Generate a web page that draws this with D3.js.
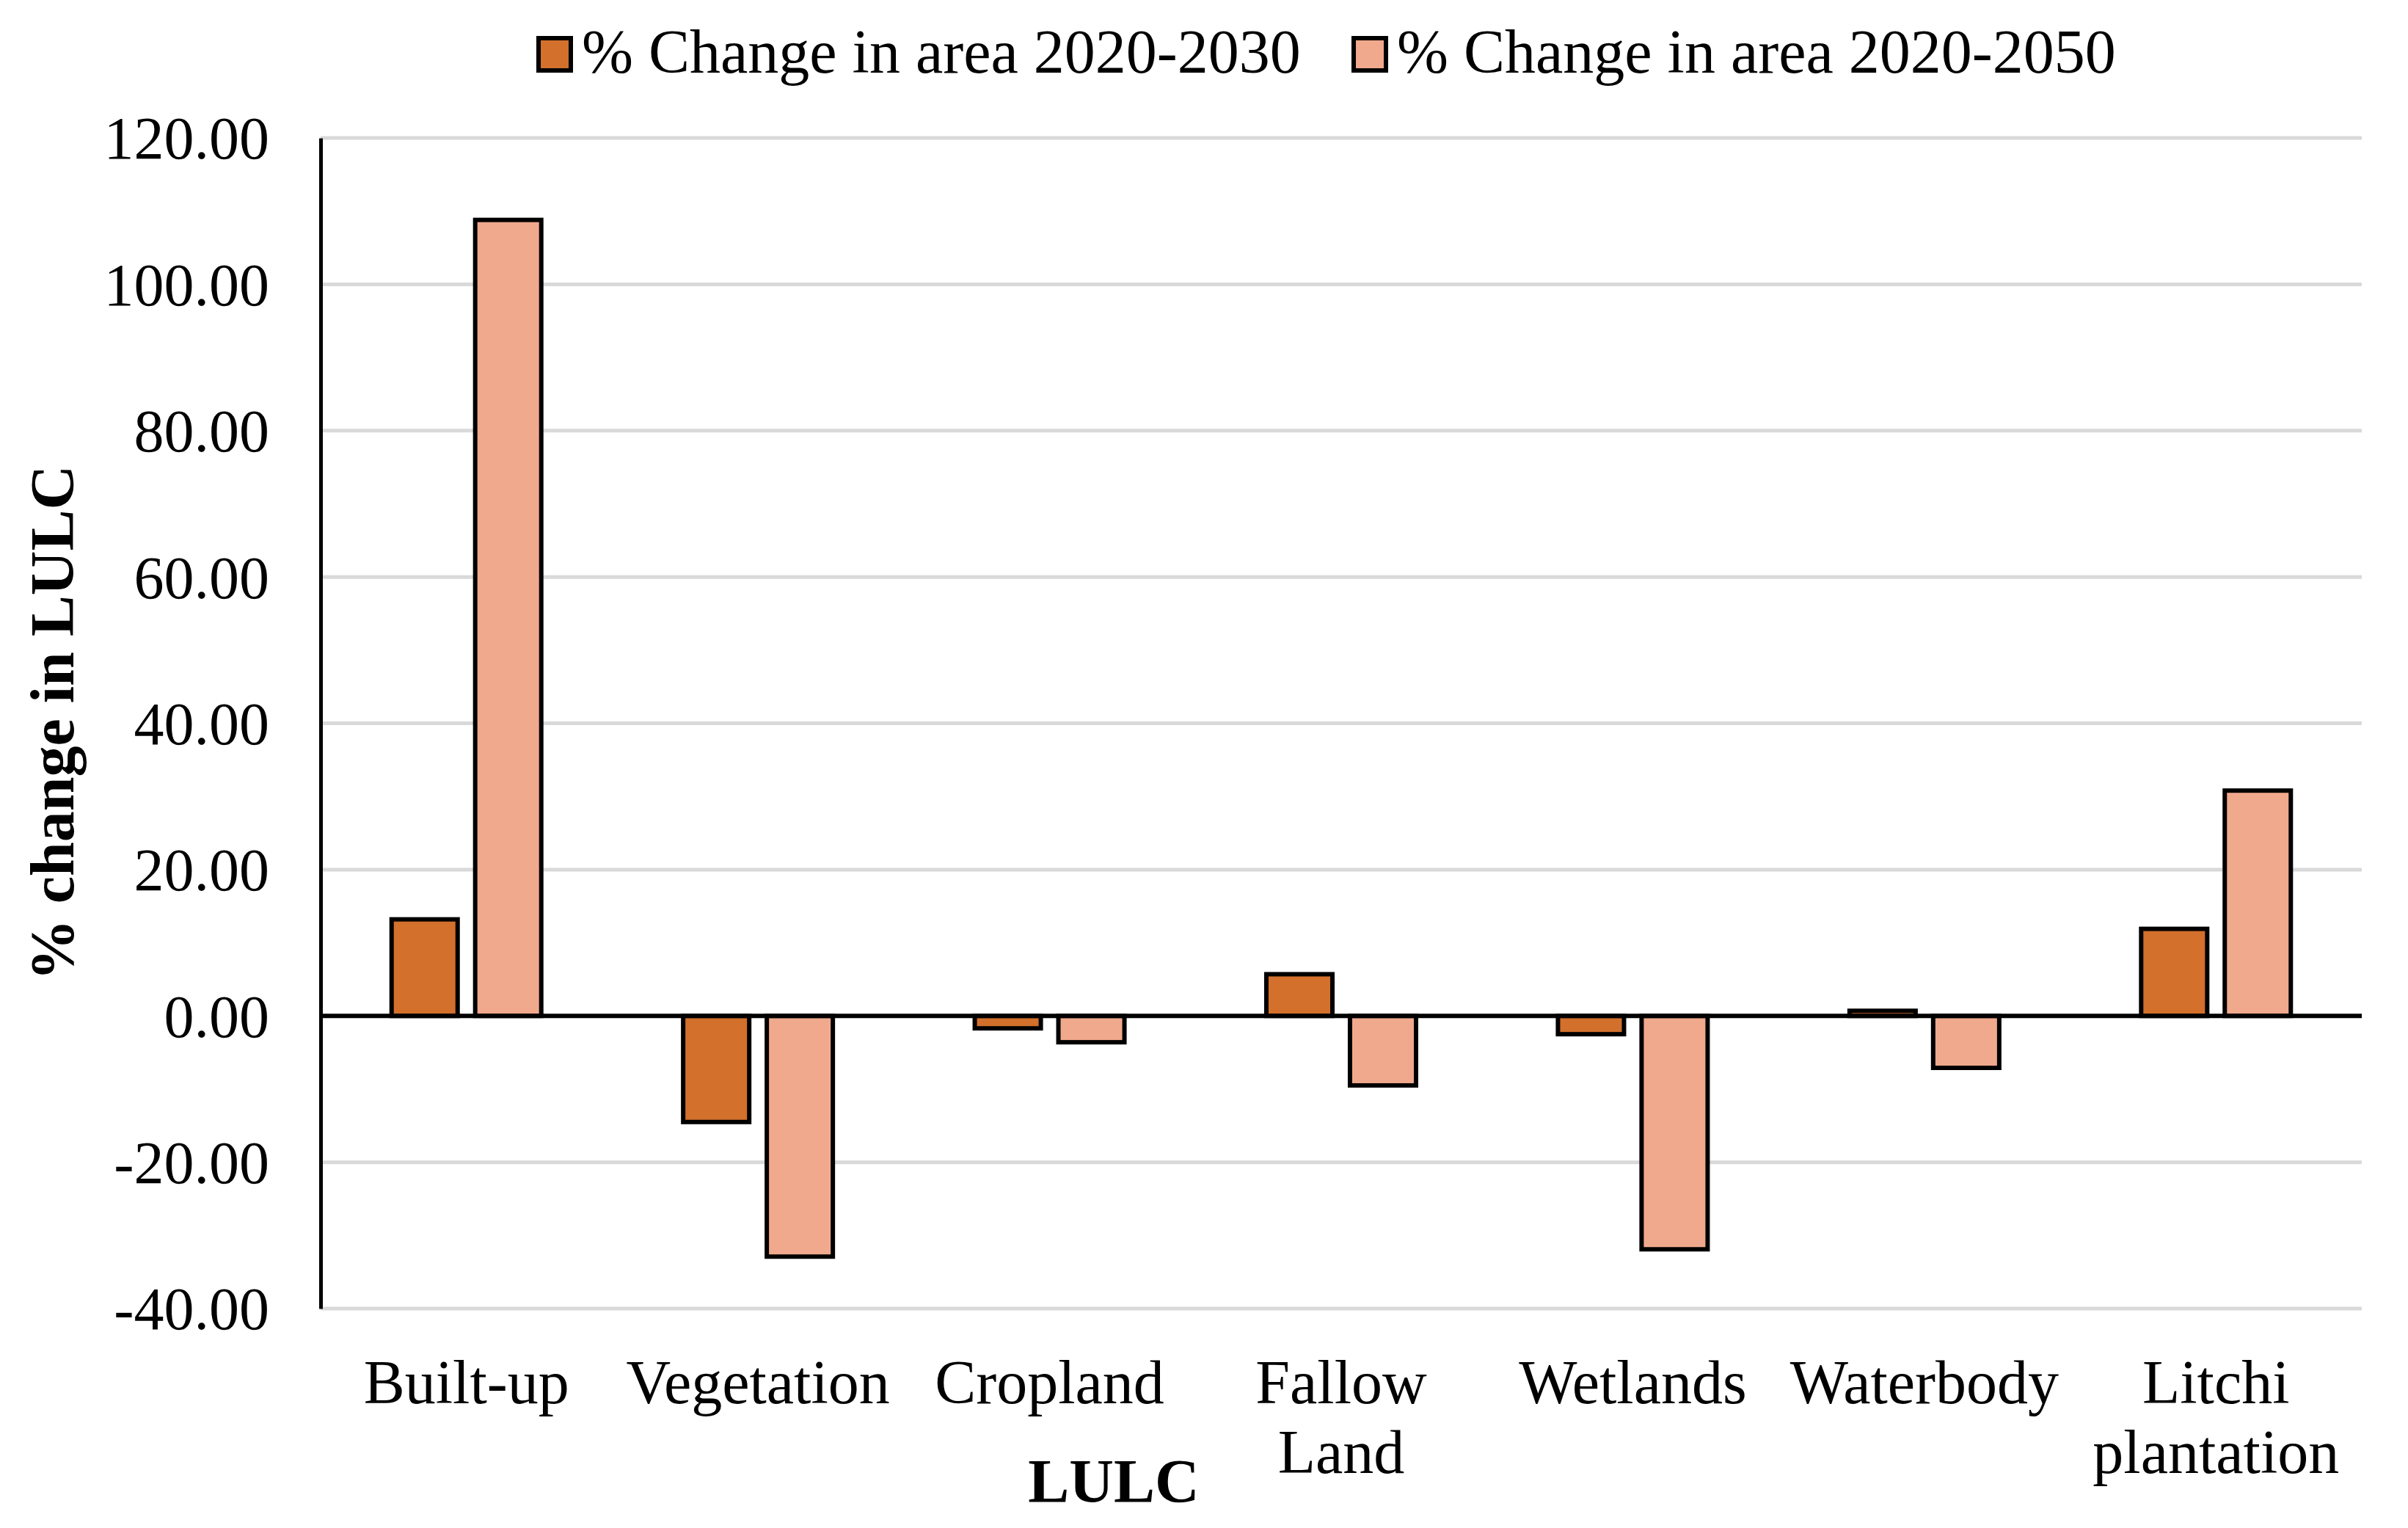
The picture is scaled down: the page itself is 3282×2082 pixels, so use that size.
<!DOCTYPE html>
<html>
<head>
<meta charset="utf-8">
<script src="https://cdn.jsdelivr.net/npm/d3@7"></script>
<style>
    body { margin: 0; background: #fff; }
    text { font-family: "Liberation Serif", "Times New Roman", serif; fill: #000; }
</style>
</head>
<body>
<script>
var categories = ["Built-up", "Vegetation", "Cropland", "Fallow Land", "Wetlands", "Waterbody", "Litchi plantation"];
var seriesNames = ["% Change in area 2020-2030", "% Change in area 2020-2050"];
var change2030 = [13.2, -14.5, -1.7, 5.7, -2.5, 0.7, 11.9];
var change2050 = [108.8, -32.9, -3.6, -9.5, -31.9, -7.1, 30.8];
var yTicks = [-40, -20, 0, 20, 40, 60, 80, 100, 120];
var colors = ["#d2702c", "#f0a98c"];

var width = 3282,
    height = 2082;

var svg = d3.select("body")
    .append("svg")
    .attr("width", width)
    .attr("height", height);

var plotLeft = 437, plotRight = 3219, plotTop = 188, plotBottom = 1783;
var fontSize = 84;

var y = d3.scaleLinear()
    .domain([-40, 120])
    .range([plotBottom, plotTop]);

var x0 = d3.scaleBand()
    .domain(categories)
    .range([plotLeft, plotRight]);

var groupW = 204;
var x1 = d3.scaleBand()
    .domain([0, 1])
    .range([(x0.bandwidth() - groupW) / 2, (x0.bandwidth() + groupW) / 2])
    .paddingInner(0.21);

// gridlines
svg.append("g")
    .selectAll("line")
    .data(yTicks)
    .enter()
    .append("line")
    .attr("x1", plotLeft)
    .attr("x2", plotRight)
    .attr("y1", function(d) { return y(d); })
    .attr("y2", function(d) { return y(d); })
    .attr("stroke", "#d9d9d9")
    .attr("stroke-width", 5);

// y axis, Excel style hyphen for negatives
var fmt = d3.format(".2f");
var yAxis = d3.axisLeft(y)
    .tickValues(yTicks)
    .tickSize(0)
    .tickPadding(70)
    .tickFormat(function(d) { return fmt(d).replace("\u2212", "-"); });

var ya = svg.append("g")
    .attr("transform", "translate(" + plotLeft + ",0)")
    .call(yAxis);
ya.select(".domain").attr("stroke", "#000").attr("stroke-width", 5);
ya.selectAll("text")
    .attr("font-size", 82)
    .attr("dy", "0.34em")
    .style("font-family", "'Liberation Serif', serif");

// bars
var rows = categories.map(function(c, i) {
    return { cat: c, vals: [change2030[i], change2050[i]] };
});

var groups = svg.append("g")
    .selectAll("g")
    .data(rows)
    .enter()
    .append("g")
    .attr("transform", function(d) { return "translate(" + x0(d.cat) + ",0)"; });

groups.selectAll("rect")
    .data(function(d) { return d.vals.map(function(v, k) { return { k: k, v: v }; }); })
    .enter()
    .append("rect")
    .attr("x", function(d) { return x1(d.k); })
    .attr("width", x1.bandwidth())
    .attr("y", function(d) { return y(Math.max(0, d.v)); })
    .attr("height", function(d) { return Math.abs(y(d.v) - y(0)); })
    .attr("fill", function(d) { return colors[d.k]; })
    .attr("stroke", "#000")
    .attr("stroke-width", 6);

// zero line
svg.append("line")
    .attr("x1", plotLeft)
    .attr("x2", plotRight)
    .attr("y1", y(0))
    .attr("y2", y(0))
    .attr("stroke", "#000")
    .attr("stroke-width", 6);

// category labels (wrapped like the original)
var labelLines = {
    "Fallow Land": ["Fallow", "Land"],
    "Litchi plantation": ["Litchi", "plantation"]
};
var catText = svg.append("g")
    .selectAll("text")
    .data(categories)
    .enter()
    .append("text")
    .attr("y", 1912)
    .attr("text-anchor", "middle")
    .attr("font-size", fontSize);

catText.each(function(d) {
    var lines = labelLines[d] || [d];
    var t = d3.select(this);
    lines.forEach(function(l, i) {
        t.append("tspan")
            .attr("x", x0(d) + x0.bandwidth() / 2)
            .attr("dy", i === 0 ? 0 : 95)
            .text(l);
    });
});

// axis titles
svg.append("text")
    .attr("x", 1518)
    .attr("y", 2047)
    .attr("text-anchor", "middle")
    .attr("font-size", fontSize)
    .attr("font-weight", "bold")
    .text("LULC");

svg.append("text")
    .attr("transform", "translate(100,985) rotate(-90)")
    .attr("text-anchor", "middle")
    .attr("font-size", fontSize)
    .attr("font-weight", "bold")
    .text("% change in LULC");

// legend
var legendX = [731, 1842];
var legend = svg.append("g")
    .selectAll("g")
    .data(seriesNames)
    .enter()
    .append("g")
    .attr("transform", function(d, i) { return "translate(" + legendX[i] + ",0)"; });

legend.append("rect")
    .attr("x", 3)
    .attr("y", 52)
    .attr("width", 44)
    .attr("height", 44)
    .attr("fill", function(d, i) { return colors[i]; })
    .attr("stroke", "#000")
    .attr("stroke-width", 6);

legend.append("text")
    .attr("x", 62)
    .attr("y", 99)
    .attr("font-size", fontSize)
    .text(function(d) { return d; });
</script>
</body>
</html>
